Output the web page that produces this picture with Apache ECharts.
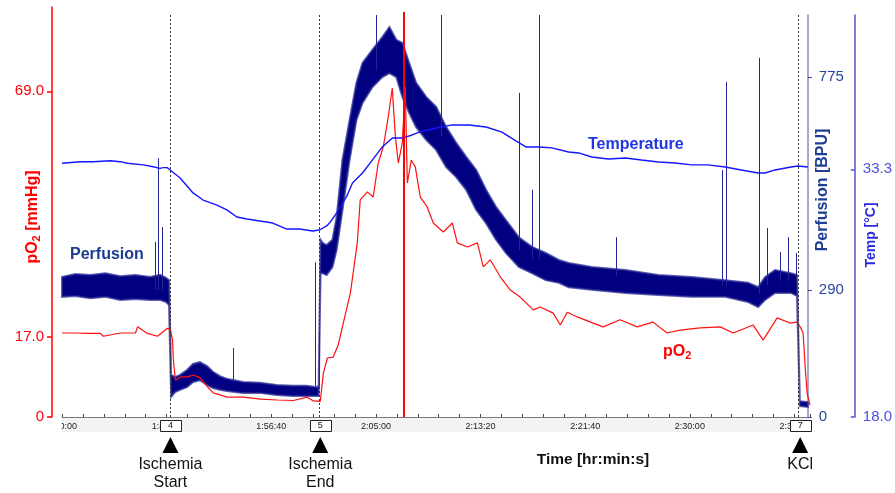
<!DOCTYPE html>
<html><head><meta charset="utf-8">
<script src="https://cdn.jsdelivr.net/npm/echarts@6/dist/echarts.min.js"></script>
<style>html,body{margin:0;padding:0;background:#fff}#c{width:895px;height:493px}</style>
</head><body><div id="c"></div>
<script>
// ---------- DATA (time in seconds since 0:00:00) ----------
const xMin = 6000, xMax = 9574, xInterval = 500;

const pO2Times = [6000,6064,6136,6184,6198,6279,6351,6361,6408,6456,
  6504,6518,6528,6532,6542,6566,6599,6628,6661,6695,
  6723,6790,6867,6948,7029,7106,7172,7201,7234,7249,
  7268,7296,7320,7344,7378,7411,7425,7459,7487,7511,
  7535,7559,7578,7593,7607,7626,7640,7650,7669,7688,
  7712,7745,7774,7822,7865,7889,7937,7985,8013,8046,
  8094,8142,8189,8252,8285,8347,8381,8414,8462,8538,
  8586,8667,8748,8824,8891,8954,9049,9145,9207,9302,
  9350,9417,9479,9512,9527,9541,9551,9560,9574];
const pO2Values = [17.8,17.8,17.7,17.7,17.1,17.8,17.8,19.1,17.7,17.1,
  18.8,18.4,16.4,12.1,7.8,8.5,8.5,8.9,8.3,6.4,
  5.1,4.2,4.2,3.8,3.6,3.5,4.2,3.4,3.3,9.3,
  12.5,12.7,15.3,19.9,26.3,36.9,46.0,47.7,46.6,53.8,
  57.2,63.6,69.7,59.3,53.8,58.1,69.9,49.6,54.4,53.0,
  46.6,44.5,41.1,39.2,41.1,36.9,36.0,36.9,31.8,33.3,
  29.7,26.9,25.4,22.7,23.3,22.0,19.5,22.2,21.2,19.9,
  19.1,20.6,19.1,20.1,17.8,18.4,18.9,19.1,17.8,19.5,
  16.3,21.0,19.9,20.1,19.1,17.8,10.6,5.1,2.5];

const tempTimes = [6000,6088,6150,6232,6279,6313,6389,6437,6470,6485,
  6504,6518,6566,6628,6676,6743,6790,6838,6886,6948,
  7010,7077,7139,7201,7234,7268,7282,7316,7363,7392,
  7440,7487,7535,7583,7631,7678,7712,7793,7870,7951,
  8032,8108,8175,8223,8285,8347,8428,8476,8538,8619,
  8700,8777,8858,8939,9016,9097,9178,9255,9336,9369,
  9417,9493,9527,9574];
const tempValues = [33.67,33.77,33.77,33.83,33.77,33.67,33.57,33.46,33.36,33.40,
  33.40,33.26,32.76,31.84,31.40,31.09,30.79,30.35,30.23,30.11,
  29.98,29.61,29.61,29.49,29.55,29.80,29.98,30.60,31.59,32.45,
  33.07,33.87,34.68,35.23,35.23,35.42,35.60,35.85,36.04,36.04,
  35.91,35.60,35.05,34.68,34.68,34.62,34.37,34.31,34.06,33.94,
  34.00,33.87,33.75,33.69,33.57,33.57,33.44,33.26,33.07,33.07,
  33.26,33.44,33.50,33.44];

const perfTimes = [6000,6064,6136,6208,6279,6351,6423,6470,6499,6513,
  6523,6542,6566,6599,6628,6661,6695,6723,6757,6790,
  6867,6948,7029,7106,7172,7220,7230,
  7239,7249,7268,7296,7316,7344,7378,7411,7440,7487,
  7535,7569,7602,7631,7664,7697,7745,7793,7841,7889,
  7937,7985,8032,8080,8127,8189,8252,8318,8381,8428,
  8538,8700,8858,9016,9178,9288,9336,9369,9417,9493,
  9522,9536,9574];
const perfHi = [319,326,324,328,321,324,319,324,317,312,
  96,91,96,107,121,125,116,103,93,87,
  80,78,73,71,71,68,71,
  404,397,392,404,456,586,677,762,807,837,
  866,889,860,853,807,762,730,707,661,625,
  593,563,518,479,449,410,388,374,358,351,
  342,335,324,319,312,306,296,319,335,328,
  324,36,34];
const perfLo = [274,276,271,274,267,269,267,267,262,255,
  46,57,62,68,80,84,73,66,62,59,
  55,55,50,48,48,48,48,
  328,328,324,342,381,472,586,677,716,752,
  775,784,775,730,693,661,632,609,570,547,
  518,472,442,404,374,342,328,312,306,296,
  290,283,278,274,274,262,251,267,283,283,
  276,25,23];

const spikeTimes = [6447,6461,6480,6819,7211,7230,7507,7817,8189,8252,8285,8653,9164,9183,9340,9379,9441,9479,9517];
const spikeBases = [290,290,290,80,70,70,790,640,380,360,360,320,300,300,280,300,310,310,310];
const spikePeaks = [399,590,433,157,353,192,923,923,739,518,923,410,563,764,819,431,376,410,374];

const eventTimes = [6518, 7234, 9527];
const eventIds = ['4', '5', '7'];
const eventNames = ['Ischemia\nStart', 'Ischemia\nEnd', 'KCl'];
const artifactTime = 7631;

const pO2Ticks = [0, 17, 69];
const perfTicks = [0, 290, 775];
const tempTicks = [18, 33.3];

// ---------- CHART ----------
const FONT = '"Liberation Sans", Arial, Helvetica, sans-serif';
function hms(s) {
  s = Math.round(s);
  const h = Math.floor(s / 3600), m = Math.floor((s % 3600) / 60), sec = s % 60;
  return h + ':' + String(m).padStart(2, '0') + ':' + String(sec).padStart(2, '0');
}
const zip = (a, b) => a.map((t, i) => [t, b[i]]);

const chart = echarts.init(document.getElementById('c'), null, {renderer: 'canvas'});

const option = {
  animation: false,
  backgroundColor: '#ffffff',
  textStyle: {fontFamily: FONT},
  grid: [
    {left: 62, right: 85, top: 7, bottom: 76},
    {left: 62, right: 85, top: 15, bottom: 76}
  ],
  xAxis: [
    {type: 'value', gridIndex: 0, min: xMin, max: xMax, interval: xInterval,
      axisLine: {lineStyle: {color: '#777', width: 1}},
      axisTick: {inside: true, length: 3, lineStyle: {color: '#444'}},
      minorTick: {show: true, splitNumber: 5, length: 3, lineStyle: {color: '#444'}},
      axisLabel: {formatter: hms, fontSize: 9, color: '#222', margin: 5, showMaxLabel: false, fontFamily: FONT},
      splitLine: {show: false}, minorSplitLine: {show: false}},
    {type: 'value', gridIndex: 1, min: xMin, max: xMax, show: false, splitLine: {show: false}}
  ],
  yAxis: [
    {type: 'value', gridIndex: 0, position: 'left', offset: 10, min: 0, max: 86.86,
      axisLine: {show: true, lineStyle: {color: '#ff0000', width: 1.5}},
      axisTick: {show: true, length: 5, customValues: pO2Ticks, lineStyle: {color: '#ff0000', width: 1.5}},
      axisLabel: {customValues: pO2Ticks, formatter: v => v === 0 ? '0' : v.toFixed(1), color: '#ff0000', fontSize: 15, margin: 8, fontFamily: FONT},
      splitLine: {show: false}},
    {type: 'value', gridIndex: 1, position: 'right', offset: 0, min: 0, max: 916.6,
      axisLine: {show: true, lineStyle: {color: '#8a8abf', width: 1.5}},
      axisTick: {show: true, length: 4, customValues: perfTicks, lineStyle: {color: '#2b4b9b'}},
      axisLabel: {customValues: perfTicks, color: '#25479b', fontSize: 15, margin: 11, fontFamily: FONT},
      splitLine: {show: false}},
    {type: 'value', gridIndex: 1, position: 'right', offset: 47, min: 18, max: 42.83,
      axisLine: {show: true, lineStyle: {color: '#5252cf', width: 1.5}},
      axisTick: {show: true, inside: true, length: 4, customValues: tempTicks, lineStyle: {color: '#5252cf', width: 1.5}},
      axisLabel: {customValues: tempTicks, formatter: v => v.toFixed(1), color: '#4d4de0', fontSize: 15, margin: 8, fontFamily: FONT},
      splitLine: {show: false}}
  ],
  series: [
    {name: 'Perfusion', type: 'custom', xAxisIndex: 1, yAxisIndex: 1, z: 2,
      data: perfTimes.map((t, i) => [t, perfLo[i], perfHi[i]]),
      encode: {x: 0, y: [1, 2]},
      renderItem: function (params, api) {
        if (params.dataIndex !== 0) return;
        const pts = [];
        for (let i = 0; i < perfTimes.length; i++) pts.push(api.coord([perfTimes[i], perfHi[i]]));
        for (let i = perfTimes.length - 1; i >= 0; i--) pts.push(api.coord([perfTimes[i], perfLo[i]]));
        return {type: 'polygon', shape: {points: pts}, style: {fill: '#000080', stroke: 'rgba(40,40,150,0.75)', lineWidth: 2}};
      }},
    {name: 'PerfusionSpikes', type: 'custom', xAxisIndex: 1, yAxisIndex: 1, z: 2, clip: false,
      data: spikeTimes.map((t, i) => [t, spikeBases[i], spikePeaks[i]]),
      encode: {x: 0, y: [1, 2]},
      renderItem: function (params, api) {
        const a = api.coord([api.value(0), api.value(1)]);
        const b = api.coord([api.value(0), Math.min(api.value(2), 916.6)]);
        const x = Math.round(a[0]) + 0.5;
        return {type: 'line', shape: {x1: x, y1: a[1], x2: x, y2: b[1]}, style: {stroke: '#23239a', lineWidth: 1}};
      }},
    {name: 'pO2', type: 'line', xAxisIndex: 0, yAxisIndex: 0, z: 3,
      data: zip(pO2Times, pO2Values), showSymbol: false, symbol: 'none',
      lineStyle: {color: '#ff1010', width: 1.2},
      markLine: {silent: true, symbol: 'none', label: {show: false},
        lineStyle: {color: '#ff0000', width: 2, type: 'solid'},
        data: [[{coord: [artifactTime, 0]}, {coord: [artifactTime, 85.8]}]]}},
    {name: 'Temperature', type: 'line', xAxisIndex: 1, yAxisIndex: 2, z: 4,
      data: zip(tempTimes, tempValues), showSymbol: false, symbol: 'none',
      lineStyle: {color: '#1515ff', width: 1.4},
      markLine: {silent: true, symbol: 'none', label: {show: false},
        lineStyle: {color: '#333', width: 1, type: [2, 2]},
        data: eventTimes.map(t => ({xAxis: t}))}}
  ]
};
chart.setOption(option);

// ---------- ANNOTATIONS ----------
const els = [];
const gridLeft = chart.convertToPixel({xAxisIndex: 0}, xMin);
const gridRight = chart.convertToPixel({xAxisIndex: 0}, xMax);
const axisY = chart.convertToPixel({yAxisIndex: 0}, 0);
els.push({type: 'rect', z: -1, silent: true,
  shape: {x: gridLeft, y: axisY + 1, width: gridRight - gridLeft, height: 14},
  style: {fill: '#f3f3f3'}});
els.push({type: 'rect', z: 50, silent: true,
  shape: {x: 45, y: axisY + 2, width: gridLeft - 45.5, height: 16}, style: {fill: '#ffffff'}});

eventTimes.forEach((t, i) => {
  const px = chart.convertToPixel({xAxisIndex: 0}, t);
  els.push({type: 'rect', z: 60, silent: true,
    shape: {x: Math.round(px - 10.5) + 0.5, y: axisY + 3.5, width: 21, height: 11},
    style: {fill: '#ffffff', stroke: '#222', lineWidth: 1}});
  els.push({type: 'text', z: 61, silent: true, x: px, y: axisY + 9,
    style: {text: eventIds[i], fontSize: 9, fontFamily: FONT, fill: '#111', align: 'center', verticalAlign: 'middle'}});
  els.push({type: 'polygon', z: 60, silent: true,
    shape: {points: [[px, axisY + 20], [px - 8, axisY + 36], [px + 8, axisY + 36]]}, style: {fill: '#000'}});
  els.push({type: 'text', z: 60, silent: true, x: px, y: axisY + 39,
    style: {text: eventNames[i], fontSize: 16, lineHeight: 18, fontFamily: FONT, fill: '#111', align: 'center', verticalAlign: 'top'}});
});

els.push({type: 'text', silent: true, x: 593, y: 460,
  style: {text: 'Time [hr:min:s]', fontSize: 15.5, fontWeight: 'bold', fontFamily: FONT, fill: '#111', align: 'center', verticalAlign: 'middle'}});
els.push({type: 'text', silent: true, x: 70, y: 255,
  style: {text: 'Perfusion', fontSize: 16, fontWeight: 'bold', fontFamily: FONT, fill: '#1b3c8e', align: 'left', verticalAlign: 'middle'}});
els.push({type: 'text', silent: true, x: 588, y: 145,
  style: {text: 'Temperature', fontSize: 16, fontWeight: 'bold', fontFamily: FONT, fill: '#2036e0', align: 'left', verticalAlign: 'middle'}});
els.push({type: 'text', silent: true, x: 663, y: 352,
  style: {text: '{m|pO}{s|2}', fontFamily: FONT, align: 'left', verticalAlign: 'middle',
    rich: {m: {fontSize: 16, fontWeight: 'bold', fill: '#ff0000', fontFamily: FONT},
           s: {fontSize: 11, fontWeight: 'bold', fill: '#ff0000', fontFamily: FONT, padding: [8, 0, 0, 0]}}}});
els.push({type: 'text', silent: true, x: 33, y: 217, rotation: Math.PI / 2,
  style: {text: '{m|pO}{s|2}{m| [mmHg]}', fontFamily: FONT, align: 'center', verticalAlign: 'middle',
    rich: {m: {fontSize: 16, fontWeight: 'bold', fill: '#ff0000', fontFamily: FONT},
           s: {fontSize: 11, fontWeight: 'bold', fill: '#ff0000', fontFamily: FONT, padding: [8, 0, 0, 0]}}}});
els.push({type: 'text', silent: true, x: 823, y: 190, rotation: Math.PI / 2,
  style: {text: 'Perfusion [BPU]', fontSize: 16, fontWeight: 'bold', fontFamily: FONT, fill: '#1f3f94', align: 'center', verticalAlign: 'middle'}});
els.push({type: 'text', silent: true, x: 871, y: 235, rotation: Math.PI / 2,
  style: {text: 'Temp [°C]', fontSize: 14, fontWeight: 'bold', fontFamily: FONT, fill: '#2a2ae0', align: 'center', verticalAlign: 'middle'}});

chart.setOption({graphic: {elements: els}});
</script></body></html>
